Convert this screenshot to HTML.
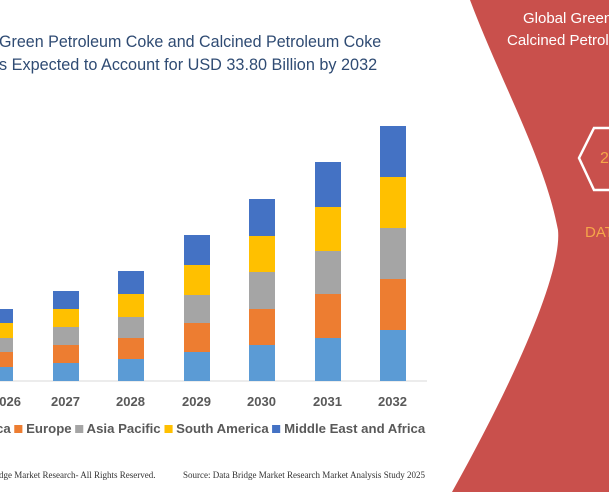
<!DOCTYPE html>
<html><head><meta charset="utf-8"><style>
body{margin:0;width:609px;height:492px;overflow:hidden;background:#fff;font-family:"Liberation Sans",sans-serif;position:relative}
.t{position:absolute;white-space:nowrap}
</style></head><body>
<svg width="609" height="492" style="position:absolute;left:0;top:0">
<path d="M470,0 C500,80 545,160 558,230 C562,270 520,370 452,492 L609,492 L609,0 Z" fill="#c9504c"/>
<polygon points="579,158 594,128 620,128 620,190 594,190" fill="none" stroke="#fff" stroke-width="2.5"/>
<line x1="0" y1="381" x2="427" y2="381" stroke="#d9d9d9" stroke-width="1"/>
<g id="bars"></g>
</svg>
<script>
var d=[[-13,309,323,338,352,367],[53,291,309,327,345,363],[118,271,294,317,338,359],[184,235,265,295,323,352],[249,199,236,272,309,345],[315,162,207,251,294,338],[380,126,177,228,279,330]];
var c=["#4472c4","#ffc000","#a5a5a5","#ed7d31","#5b9bd5"];var s="";
d.forEach(function(b){for(var i=0;i<5;i++){var y1=b[i+1],y2=i<4?b[i+2]:381;s+='<rect x="'+b[0]+'" y="'+y1+'" width="26" height="'+(y2-y1)+'" fill="'+c[i]+'"/>';}});
document.getElementById("bars").innerHTML=s;
</script>
<div class="t" style="left:-1px;top:32px;font-size:17px;color:#2f4b73;transform:scaleX(0.945);transform-origin:0 0">Green Petroleum Coke and Calcined Petroleum Coke</div>
<div class="t" style="left:-1px;top:55px;font-size:17px;color:#2f4b73;transform:scaleX(0.955);transform-origin:0 0">s Expected to Account for USD 33.80 Billion by 2032</div>
<div class="t" style="left:523px;top:10px;font-size:15px;color:#fff">Global Green</div>
<div class="t" style="left:507px;top:32px;font-size:15px;color:#fff">Calcined Petroleum</div>
<div class="t" style="left:600px;top:150px;font-size:16px;color:#f5a54a">2</div>
<div class="t" style="left:585px;top:224px;font-size:15px;color:#f5a54a">DATA</div>
<div class="t" style="left:0;top:394px;font-size:13px;font-weight:bold;color:#595959">
<span style="position:absolute;left:-8px">2026</span><span style="position:absolute;left:51px">2027</span><span style="position:absolute;left:116px">2028</span><span style="position:absolute;left:182px">2029</span><span style="position:absolute;left:247px">2030</span><span style="position:absolute;left:313px">2031</span><span style="position:absolute;left:378px">2032</span></div>
<div class="t" style="left:-4px;top:421px;font-size:13px;font-weight:bold;color:#595959;transform:scaleX(1.015);transform-origin:0 0">ca <span style="display:inline-block;width:8px;height:8px;background:#ed7d31"></span> Europe <span style="display:inline-block;width:8px;height:8px;background:#a5a5a5"></span> Asia Pacific <span style="display:inline-block;width:8px;height:8px;background:#ffc000"></span> South America <span style="display:inline-block;width:8px;height:8px;background:#4472c4"></span> Middle East and Africa</div>
<div class="t" style="left:-1px;top:470px;font-size:9px;font-family:'Liberation Serif',serif;color:#333">dge Market Research- All Rights Reserved.</div>
<div class="t" style="left:183px;top:470px;font-size:9px;font-family:'Liberation Serif',serif;color:#333">Source: Data Bridge Market Research Market Analysis Study 2025</div>
</body></html>
